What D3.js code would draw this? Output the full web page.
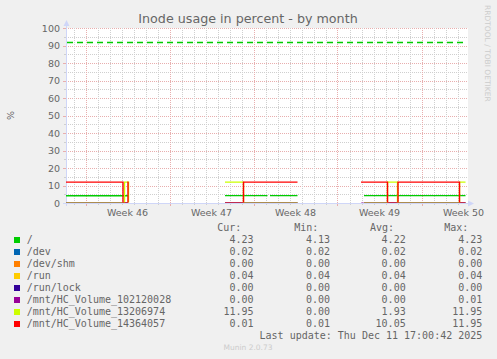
<!DOCTYPE html>
<html><head><meta charset="utf-8">
<script src="https://cdn.jsdelivr.net/npm/d3@7"></script>
<style>
html,body{margin:0;padding:0;background:#F0F0F0;}
svg{display:block;}
</style></head><body>
<script>
// ---------- data ----------
const title = "Inode usage in percent - by month";
const yLabel = "%";
const vendorText = "RRDTOOL / TOBI OETIKER";
const footerText = "Munin 2.0.73";
const lastUpdate = "Last update: Thu Dec 11 17:00:42 2025";
const yTicks = [0, 10, 20, 30, 40, 50, 60, 70, 80, 90, 100];
const weekLabels = ["Week 46", "Week 47", "Week 48", "Week 49", "Week 50"];
const weekStarts = ["2025-11-10 00:00", "2025-11-17 00:00", "2025-11-24 00:00", "2025-12-01 00:00", "2025-12-08 00:00"];
const timeStart = "2025-11-08 09:00";
const timeEnd = "2025-12-11 17:00";
const legendHeaders = ["Cur:", "Min:", "Avg:", "Max:"];
const seriesNames = ["/", "/dev", "/dev/shm", "/run", "/run/lock", "/mnt/HC_Volume_102120028", "/mnt/HC_Volume_13206974", "/mnt/HC_Volume_14364057"];
const seriesColors = ["#00CC00", "#0066B3", "#FF8000", "#FFCC00", "#330099", "#990099", "#CCFF00", "#FF0000"];
const curValues = ["4.23", "0.02", "0.00", "0.04", "0.00", "0.00", "11.95", "0.01"];
const minValues = ["4.13", "0.02", "0.00", "0.04", "0.00", "0.00", "0.00", "0.01"];
const avgValues = ["4.22", "0.02", "0.00", "0.04", "0.00", "0.00", "1.93", "10.05"];
const maxValues = ["4.23", "0.02", "0.00", "0.04", "0.00", "0.01", "11.95", "11.95"];
const warningLevel = 92;

// series samples: [time, value], null = gap
const sRoot = [
  ["2025-11-08 09:00", 4.15], ["2025-11-13 13:00", 4.15], null,
  ["2025-11-21 15:00", 4.22], ["2025-11-25 04:00", 4.22], null,
  ["2025-11-25 09:00", 4.22], ["2025-11-27 16:00", 4.22], null,
  ["2025-12-03 05:00", 4.23], ["2025-12-11 16:00", 4.23]
];
const sDev = [
  ["2025-11-08 09:00", 0.02], ["2025-11-13 13:00", 0.02], null,
  ["2025-11-21 15:00", 0.02], ["2025-11-27 16:00", 0.02], null,
  ["2025-12-03 05:00", 0.02], ["2025-12-11 16:00", 0.02]
];
const sDevShm = [
  ["2025-11-08 09:00", 0], ["2025-11-13 13:00", 0], null,
  ["2025-11-21 15:00", 0], ["2025-11-27 16:00", 0], null,
  ["2025-12-03 05:00", 0], ["2025-12-11 16:00", 0]
];
const sRun = [
  ["2025-11-08 09:00", 0.04], ["2025-11-13 13:00", 0.04], null,
  ["2025-11-21 15:00", 0.04], ["2025-11-27 16:00", 0.04], null,
  ["2025-12-03 05:00", 0.04], ["2025-12-11 16:00", 0.04]
];
const sRunLock = [
  ["2025-11-08 09:00", 0], ["2025-11-13 13:00", 0], null,
  ["2025-11-21 15:00", 0], ["2025-11-27 16:00", 0], null,
  ["2025-12-03 05:00", 0], ["2025-12-11 16:00", 0]
];
const sVol102 = [
  ["2025-11-08 09:00", 0], ["2025-11-13 13:00", 0], null,
  ["2025-11-21 15:00", 0], ["2025-11-27 16:00", 0], null,
  ["2025-12-02 23:00", 0], ["2025-12-11 16:00", 0.01]
];
const sVol132 = [
  ["2025-11-08 09:00", 0], ["2025-11-13 06:00", 11.95], ["2025-11-13 14:00", 0], ["2025-11-13 15:00", 0], null,
  ["2025-11-21 15:00", 11.95], ["2025-11-23 04:00", 0], ["2025-11-27 16:00", 0], null,
  ["2025-12-03 05:00", 0], ["2025-12-05 04:00", 11.95], ["2025-12-06 00:00", 0], ["2025-12-11 04:00", 11.95], ["2025-12-11 16:00", 11.95]
];
const sVol143 = [
  ["2025-11-08 09:00", 11.95], ["2025-11-13 03:00", 0.01], ["2025-11-13 13:00", 11.95], ["2025-11-13 14:00", 11.95], null,
  ["2025-11-21 15:00", 0.01], ["2025-11-23 04:00", 11.95], ["2025-11-27 16:00", 11.95], null,
  ["2025-12-02 23:00", 11.95], ["2025-12-05 04:00", 0.01], ["2025-12-06 01:00", 11.95], ["2025-12-11 04:00", 0.01], ["2025-12-11 16:00", 0.01]
];
const allSeries = [sRoot, sDev, sDevShm, sRun, sRunLock, sVol102, sVol132, sVol143];

// ---------- drawing ----------
const W = 497, H = 359;
const parse = d3.utcParse("%Y-%m-%d %H:%M");
const t0 = parse(timeStart), t1 = parse(timeEnd);
const X0 = 66, X1 = 466, Y0 = 203, Y1 = 28;
const x = d3.scaleUtc().domain([t0, t1]).range([X0, X1]);
const y = d3.scaleLinear().domain([0, 100]).range([Y0, Y1]);

const svg = d3.select("body").append("svg").attr("width", W).attr("height", H)
  .style("font-family", "'DejaVu Sans', sans-serif");
svg.append("defs").append("clipPath").attr("id", "plotclip")
  .append("rect").attr("x", X0).attr("y", Y1 - 2).attr("width", X1 - X0 + 2).attr("height", Y0 - Y1 + 1.6);
svg.append("rect").attr("width", W).attr("height", H).attr("fill", "#F0F0F0");
svg.append("rect").attr("x", X0).attr("y", Y1).attr("width", X1 - X0 + 2).attr("height", Y0 - Y1 + 1).attr("fill", "#FFFFFF");

const minorCol = "#CFCFCF", majorCol = "#E8AEAE", axisCol = "#CFD6F8";
const g = svg.append("g");

// horizontal grid
const yMinor = d3.range(5, 100, 10);
yMinor.forEach(v => {
  const yy = Math.round(y(v)) + 0.5;
  g.append("line").attr("x1", X0).attr("x2", X1 + 1).attr("y1", yy).attr("y2", yy)
    .attr("stroke", minorCol).attr("stroke-dasharray", "1,1");
  g.append("line").attr("x1", X0 - 2).attr("x2", X0).attr("y1", yy).attr("y2", yy).attr("stroke", minorCol);
});
yTicks.forEach(v => {
  const yy = Math.round(y(v)) + 0.5;
  if (v > 0) g.append("line").attr("x1", X0).attr("x2", X1 + 1).attr("y1", yy).attr("y2", yy)
    .attr("stroke", majorCol).attr("stroke-dasharray", "1,1");
  g.append("line").attr("x1", X0 - 3).attr("x2", X0).attr("y1", yy).attr("y2", yy).attr("stroke", majorCol);
});
// vertical grid
const weekDates = weekStarts.map(parse);
const days = d3.utcDay.range(d3.utcDay.ceil(t0), t1);
days.forEach(d => {
  const isMajor = weekDates.some(w => +w === +d);
  const xx = Math.round(x(d)) + 0.5;
  g.append("line").attr("x1", xx).attr("x2", xx).attr("y1", Y1).attr("y2", Y0)
    .attr("stroke", isMajor ? majorCol : minorCol).attr("stroke-dasharray", "1,1");
  g.append("line").attr("x1", xx).attr("x2", xx).attr("y1", Y0).attr("y2", Y0 + (isMajor ? 3 : 2))
    .attr("stroke", isMajor ? majorCol : minorCol);
});

// axes
svg.append("line").attr("x1", X0 + 0.5).attr("x2", X0 + 0.5).attr("y1", Y0 + 3).attr("y2", 24).attr("stroke", axisCol);
svg.append("line").attr("x1", X0 - 3).attr("x2", X1 + 3).attr("y1", Y0 + 0.5).attr("y2", Y0 + 0.5).attr("stroke", axisCol);
svg.append("path").attr("d", `M${X0 - 2.5},26 L${X0 + 3.5},26 L${X0 + 0.5},20 Z`).attr("fill", axisCol);
svg.append("path").attr("d", `M${X1 + 2},${Y0 - 2.5} L${X1 + 2},${Y0 + 3.5} L${X1 + 8},${Y0 + 0.5} Z`).attr("fill", axisCol);

// y labels
svg.append("g").selectAll("text").data(yTicks).join("text")
  .attr("x", 60).attr("y", d => y(d) + 3.5).attr("text-anchor", "end")
  .attr("font-size", "9.5px").attr("fill", "#666").text(d => d);
// x labels
svg.append("g").selectAll("text").data(weekLabels).join("text")
  .attr("x", (d, i) => x(d3.utcHour.offset(weekDates[i], 84)))
  .attr("y", 216).attr("text-anchor", "middle")
  .attr("font-size", "9.5px").attr("fill", "#666").text(d => d);

// warning line
svg.append("line").attr("x1", X0 + 1).attr("x2", X1).attr("y1", Math.round(y(warningLevel)) + 0.5).attr("y2", Math.round(y(warningLevel)) + 0.5)
  .attr("stroke", seriesColors[0]).attr("stroke-width", 1.3).attr("stroke-dasharray", "6,4");

// series
const line = d3.line().defined(d => d !== null)
  .x(d => x(parse(d[0]))).y(d => y(d[1])).curve(d3.curveStepAfter);
const sg = svg.append("g").attr("clip-path", "url(#plotclip)");
allSeries.forEach((s, i) => {
  sg.append("path").attr("d", line(s)).attr("fill", "none")
    .attr("stroke", seriesColors[i]).attr("stroke-width", 1.4);
});

// title
svg.append("text").attr("x", 248).attr("y", 23).attr("text-anchor", "middle")
  .attr("font-size", "12.7px").attr("fill", "#666").text(title);
svg.append("text").attr("transform", `translate(14,${(Y0 + Y1) / 2}) rotate(-90)`)
  .attr("text-anchor", "middle").attr("font-size", "9.5px").attr("fill", "#666").text(yLabel);
svg.append("text").attr("transform", `translate(485,5) rotate(90)`)
  .attr("font-size", "7.5px").attr("fill", "#CCCCCC").text(vendorText);

// legend
const mono = "'DejaVu Sans Mono', monospace";
const lg = svg.append("g").style("font-family", mono).attr("font-size", "10px").attr("fill", "#666");
const headerX = [217.3, 294.3, 370, 444.3];
const colRight = [253.5, 330, 405.7, 482.3];
legendHeaders.forEach((h, i) => lg.append("text").attr("x", headerX[i]).attr("y", 231).text(h));
const cols = [curValues, minValues, avgValues, maxValues];
seriesNames.forEach((n, i) => {
  const by = 243 + 12 * i;
  lg.append("rect").attr("x", 14).attr("y", by - 6).attr("width", 6).attr("height", 6).attr("fill", seriesColors[i]);
  lg.append("text").attr("x", 26.7).attr("y", by).text(n);
  cols.forEach((c, j) => lg.append("text").attr("x", colRight[j]).attr("y", by).attr("text-anchor", "end").text(c[i]));
});
lg.append("text").attr("x", 482.3).attr("y", 339).attr("text-anchor", "end").text(lastUpdate);
svg.append("text").attr("x", 248).attr("y", 350).attr("text-anchor", "middle")
  .attr("font-size", "7.5px").attr("fill", "#CCCCCC").text(footerText);
</script>
</body></html>
